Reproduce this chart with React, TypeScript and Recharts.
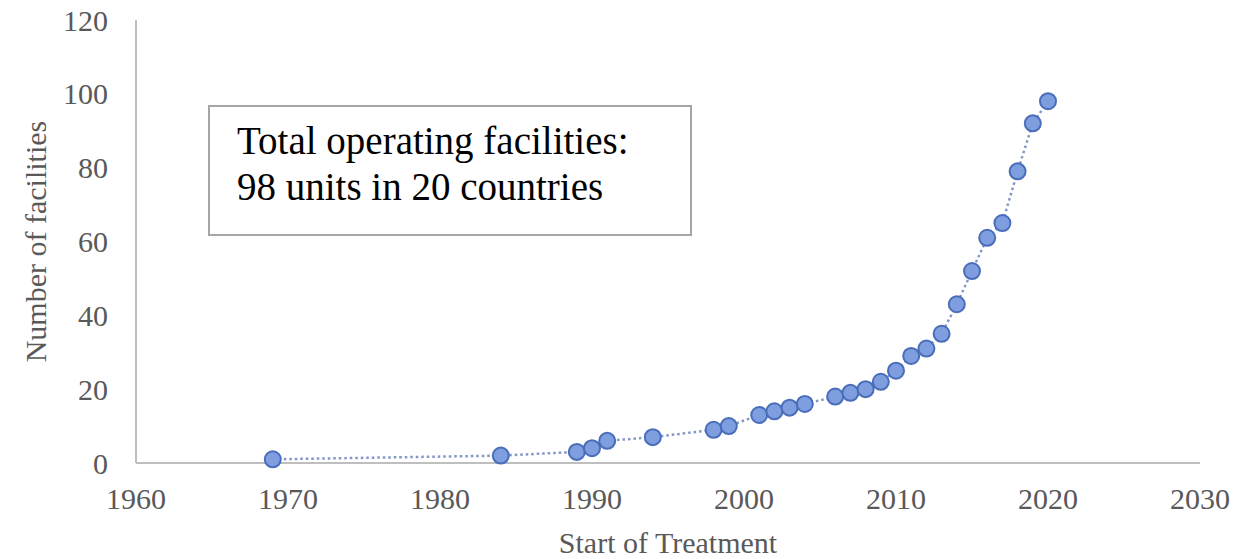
import React from "react";
import { LineChart, Line, XAxis, YAxis } from "recharts";

// Year each facility group started treatment, and cumulative facility count
const years = [1969, 1984, 1989, 1990, 1991, 1994, 1998, 1999, 2001, 2002, 2003, 2004, 2006, 2007, 2008, 2009, 2010, 2011, 2012, 2013, 2014, 2015, 2016, 2017, 2018, 2019, 2020];
const facilities = [1, 2, 3, 4, 6, 7, 9, 10, 13, 14, 15, 16, 18, 19, 20, 22, 25, 29, 31, 35, 43, 52, 61, 65, 79, 92, 98];

const xTicks = [1960, 1970, 1980, 1990, 2000, 2010, 2020, 2030];
const yTicks = [0, 20, 40, 60, 80, 100, 120];

const xTitle = "Start of Treatment";
const yTitle = "Number of facilities";
const noteLines = ["Total operating facilities:", "98 units in 20 countries"];

const data = years.map((year, i) => ({ year, count: facilities[i] }));

const FONT = "'Liberation Serif', 'Times New Roman', serif";
const TEXT_GRAY = "#595959";
const AXIS_GRAY = "#bfbfbf";

const tickStyle = { fontFamily: FONT, fontSize: 30, fill: TEXT_GRAY };

function YTitle(props: any) {
  const vb = props.viewBox || {};
  const cx = vb.x + 15;
  const cy = vb.y + vb.height / 2;
  return (
    <text
      x={cx}
      y={cy}
      transform={`rotate(-90, ${cx}, ${cy})`}
      textAnchor="middle"
      dominantBaseline="central"
      style={{ fontFamily: FONT, fontSize: 30, fill: TEXT_GRAY }}
    >
      {yTitle}
    </text>
  );
}

function XTitle(props: any) {
  const vb = props.viewBox || {};
  const cx = vb.x + vb.width / 2;
  const cy = vb.y + 79;
  return (
    <text
      x={cx}
      y={cy}
      textAnchor="middle"
      dominantBaseline="central"
      style={{ fontFamily: FONT, fontSize: 30, fill: TEXT_GRAY }}
    >
      {xTitle}
    </text>
  );
}

export default function App() {
  return (
    <div style={{ position: "absolute", left: 0, top: 0, width: 1247, height: 559, background: "#ffffff" }}>
      <LineChart
        width={1247}
        height={559}
        data={data}
        margin={{ top: 20, right: 47, bottom: 36, left: 20 }}
      >
        <XAxis
          type="number"
          dataKey="year"
          domain={[1960, 2030]}
          ticks={xTicks}
          interval={0}
          allowDataOverflow
          tickLine={false}
          tickSize={6}
          tickMargin={19}
          height={60}
          axisLine={{ stroke: AXIS_GRAY, strokeWidth: 2 }}
          tick={tickStyle}
          label={<XTitle />}
        />
        <YAxis
          type="number"
          domain={[0, 120]}
          ticks={yTicks}
          interval={0}
          tickLine={false}
          tickSize={6}
          tickMargin={22}
          width={116}
          axisLine={{ stroke: AXIS_GRAY, strokeWidth: 2 }}
          tick={tickStyle}
          label={<YTitle />}
        />
        <Line
          type="linear"
          dataKey="count"
          stroke="#8296c8"
          strokeWidth={2.5}
          strokeDasharray="2.5 3"
          dot={{ r: 8, fill: "#7e9ee0", stroke: "#4a6db9", strokeWidth: 2, strokeDasharray: "" }}
          activeDot={false}
          isAnimationActive={false}
        />
      </LineChart>
      <div
        style={{
          position: "absolute",
          left: 208,
          top: 105,
          width: 484,
          height: 131,
          boxSizing: "border-box",
          border: "2px solid #a6a6a6",
          background: "#ffffff",
          paddingLeft: 27,
          paddingTop: 11,
          fontFamily: FONT,
          fontSize: 39,
          lineHeight: "46px",
          color: "#000000",
          whiteSpace: "nowrap",
        }}
      >
        {noteLines.map((line) => (
          <div key={line}>{line}</div>
        ))}
      </div>
    </div>
  );
}
